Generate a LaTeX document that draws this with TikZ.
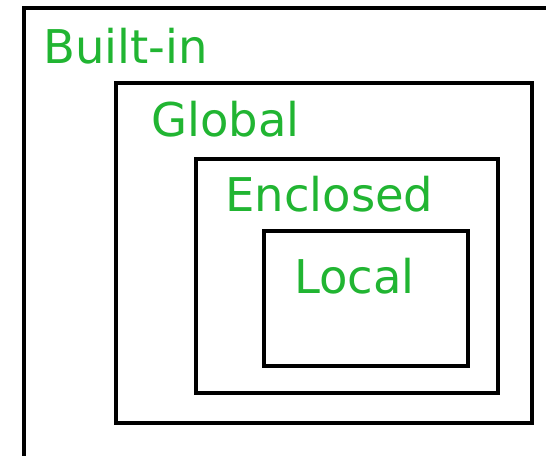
\documentclass[tikz,border=0pt]{standalone}
\usepackage{fontspec}
\setmainfont{DejaVu Sans}
\definecolor{scopegreen}{RGB}{33,181,50}
\begin{document}
\begin{tikzpicture}[x=1pt,y=1pt,
  box/.style={draw=black,line width=4pt},
  lbl/.style={text=scopegreen,font=\fontsize{46.5}{56}\selectfont,inner sep=0pt,anchor=base west}]
\useasboundingbox (0,0) rectangle (546,455);
\fill[white] (0,0) rectangle (546,455);
\clip (0,0) rectangle (546,455);
% outer (Built-in), extends beyond right and bottom
\draw[box] (24,-4) rectangle (560,447);
% Global
\draw[box] (116,32) rectangle (532,372);
% Enclosed
\draw[box] (196,62) rectangle (498,296);
% Local
\draw[box] (264,89) rectangle (468,224);
\node[lbl] (builtin) at (43,391) {Built-in};
\node[lbl] (global) at (151,318) {Global};
\node[lbl] (enclosed) at (225,243) {Enclosed};
\node[lbl] (local) at (294,161) {Local};
\end{tikzpicture}
\end{document}
